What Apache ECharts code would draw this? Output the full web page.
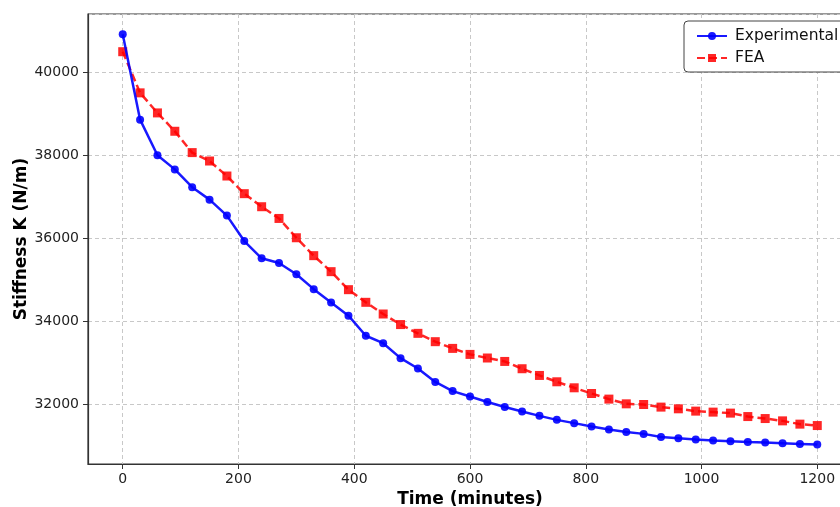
<!DOCTYPE html>
<html>
<head>
<meta charset="utf-8">
<script src="https://cdn.jsdelivr.net/npm/echarts@6/dist/echarts.min.js"></script>
<style>html,body{margin:0;padding:0;background:#fff}#c{width:840px;height:507px}</style>
</head>
<body>
<div id="c"></div>
<script>
const timeMinutes = [0,30,60,90,120,150,180,210,240,270,300,330,360,390,420,450,480,510,540,570,600,630,660,690,720,750,780,810,840,870,900,930,960,990,1020,1050,1080,1110,1140,1170,1200];
const experimental = [40920,38860,38000,37660,37230,36930,36545,35930,35515,35400,35130,34770,34445,34130,33645,33465,33105,32855,32530,32310,32180,32045,31925,31815,31712,31615,31536,31454,31381,31325,31277,31204,31173,31139,31115,31100,31083,31067,31052,31035,31018];
const fea = [40500,39507,39023,38580,38065,37862,37500,37074,36759,36476,36010,35578,35192,34757,34452,34170,33915,33703,33502,33340,33195,33108,33025,32849,32687,32534,32389,32252,32116,32002,31986,31923,31882,31826,31802,31778,31695,31647,31591,31512,31478];

const font = 'DejaVu Sans';
const chart = echarts.init(document.getElementById('c'), null, {renderer:'canvas'});
const pairs = (ys) => timeMinutes.map((t,i)=>[t, ys[i]]);
const plain = (v) => String(v);
chart.setOption({
  animation:false,
  backgroundColor:'#fff',
  grid:{left:88, top:14, right:-12, bottom:43, show:true, borderColor:'#333', borderWidth:1.2, backgroundColor:'transparent', containLabel:false, outerBoundsMode:'none'},
  legend:{
    left:684, top:21, orient:'vertical', backgroundColor:'#fff', borderColor:'#444', borderWidth:1, borderRadius:4,
    padding:[7,40,6,12], itemGap:6, itemWidth:30, itemHeight:10,
    textStyle:{fontFamily:font, fontSize:15.5, color:'#111', padding:[0,0,0,3]},
    data:['Experimental','FEA']
  },
  xAxis:{
    type:'value', min:-60, max:1260, splitNumber:6,
    name:'Time (minutes)', nameLocation:'middle', nameGap:27, nameMoveOverlap:false,
    nameTextStyle:{fontFamily:font, fontSize:17, fontWeight:'bold', color:'#000'},
    axisLine:{show:true, onZero:false, lineStyle:{color:'#333', width:1.2}},
    axisTick:{show:true, length:5, lineStyle:{color:'#333'}},
    axisLabel:{fontFamily:font, fontSize:14, color:'#222', margin:8, showMinLabel:false, showMaxLabel:false, formatter:plain},
    splitLine:{show:true, lineStyle:{color:'#c8c8c8', type:[4,3], width:1}}
  },
  yAxis:{
    type:'value', min:30550, max:41410, splitNumber:5,
    name:'Stiffness K (N/m)', nameLocation:'middle', nameGap:58, nameMoveOverlap:false,
    nameTextStyle:{fontFamily:font, fontSize:17, fontWeight:'bold', color:'#000'},
    axisLine:{show:true, onZero:false, lineStyle:{color:'#333', width:1.2}},
    axisTick:{show:true, length:5, lineStyle:{color:'#333'}},
    axisLabel:{fontFamily:font, fontSize:14, color:'#222', margin:9, showMinLabel:false, showMaxLabel:false, formatter:plain},
    splitLine:{show:true, lineStyle:{color:'#c8c8c8', type:[4,3], width:1}}
  },
  series:[
    {name:'Experimental', type:'line', data:pairs(experimental), symbol:'circle', symbolSize:8,
     itemStyle:{color:'rgba(0,0,255,0.9)'}, lineStyle:{color:'rgba(0,0,255,0.9)', width:2.5}, z:3},
    {name:'FEA', type:'line', data:pairs(fea), symbol:'rect', symbolSize:9,
     itemStyle:{color:'rgba(255,0,0,0.85)'}, lineStyle:{color:'rgba(255,0,0,0.85)', width:2.5, type:[8,4]}, z:2}
  ]
});
</script>
</body>
</html>
